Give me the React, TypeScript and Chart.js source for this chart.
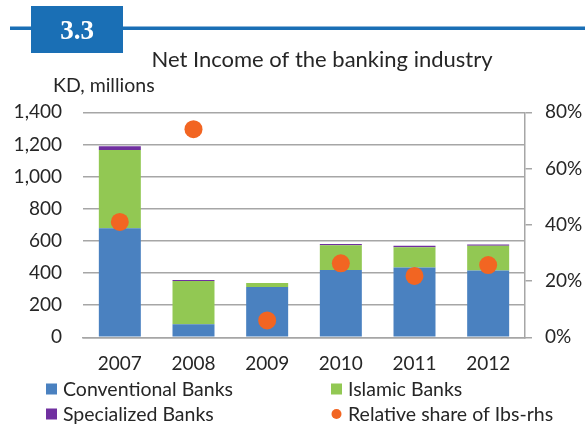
import React, { useEffect, useRef } from "react";
import { Chart, registerables } from "chart.js";

Chart.register(...registerables);

const years = ["2007", "2008", "2009", "2010", "2011", "2012"];
const conventional = [679, 81, 313, 418, 434, 415];
const islamic = [486, 270, 25, 155, 127, 154];
const specialized = [23, 6, 0, 7, 8, 8];
const shareIbs = [41, 74, 6, 26.3, 21.8, 25.7];

const leftTicks = { min: 0, max: 1400, step: 200 };
const rightTicks = { min: 0, max: 80, step: 20 };

const FONT = "Lato";
const TEXT = "#262626";
const GRID = "#a6a6a6";
const C_CONV = "#4a81c0";
const C_ISL = "#92c853";
const C_SPEC = "#7030a0";
const C_DOT = "#f26522";
const HEAD = "#1a6fb5";

const chrome = {
  id: "chrome",
  afterDraw(chart: any) {
    const ctx = chart.ctx as CanvasRenderingContext2D;
    ctx.save();
    // header band
    ctx.fillStyle = HEAD;
    ctx.fillRect(10, 26.5, 575, 3.5);
    ctx.fillRect(31, 6, 92, 47);
    ctx.fillStyle = "#ffffff";
    ctx.font = `bold 27px "Liberation Serif"`;
    ctx.textAlign = "center";
    ctx.textBaseline = "alphabetic";
    ctx.fillText("3.3", 77, 39.3);
    // title
    ctx.fillStyle = TEXT;
    ctx.font = `22px ${FONT}`;
    ctx.textAlign = "center";
    ctx.fillText("Net Income of the banking industry", 322, 67);
    // axis unit
    ctx.font = `19.5px ${FONT}`;
    ctx.textAlign = "left";
    ctx.fillText("KD, millions", 53, 92);
    // legend
    ctx.font = `19.5px ${FONT}`;
    const items = [
      { label: "Conventional Banks", color: C_CONV, x: 46, y: 389, dot: false },
      { label: "Islamic Banks", color: C_ISL, x: 331, y: 389, dot: false },
      { label: "Specialized Banks", color: C_SPEC, x: 46, y: 414, dot: false },
      { label: "Relative share of Ibs-rhs", color: C_DOT, x: 331, y: 414, dot: true },
    ];
    for (const it of items) {
      ctx.fillStyle = it.color;
      if (it.dot) {
        ctx.beginPath();
        ctx.arc(it.x + 5.5, it.y, 5, 0, Math.PI * 2);
        ctx.fill();
      } else {
        ctx.fillRect(it.x, it.y - 5.5, 11, 11);
      }
      ctx.fillStyle = TEXT;
      ctx.textBaseline = "middle";
      ctx.fillText(it.label, it.x + 17, it.y + 1);
    }
    ctx.restore();
  },
};

export default function App() {
  const ref = useRef<HTMLCanvasElement | null>(null);
  useEffect(() => {
    if (!ref.current) return;
    const chart = new Chart(ref.current, {
      type: "bar",
      data: {
        labels: years,
        datasets: [
          {
            type: "line",
            label: "Relative share of Ibs-rhs",
            data: shareIbs,
            yAxisID: "y1",
            showLine: false,
            pointRadius: 9,
            pointHoverRadius: 9,
            pointBackgroundColor: C_DOT,
            pointBorderWidth: 0,
            backgroundColor: C_DOT,
            borderColor: C_DOT,
            order: 0,
          } as any,
          { label: "Conventional Banks", data: conventional, backgroundColor: C_CONV, yAxisID: "y", order: 1 },
          { label: "Islamic Banks", data: islamic, backgroundColor: C_ISL, yAxisID: "y", order: 1 },
          { label: "Specialized Banks", data: specialized, backgroundColor: C_SPEC, yAxisID: "y", order: 1 },
        ],
      },
      options: {
        responsive: false,
        animation: false,
        devicePixelRatio: 1,
        datasets: { bar: { barPercentage: 0.57, categoryPercentage: 1, borderWidth: 0 } },
        layout: { padding: { top: 112.3, left: 0, right: 0, bottom: 0 } },
        plugins: { legend: { display: false }, tooltip: { enabled: false }, title: { display: false } },
        scales: {
          x: {
            stacked: true,
            grid: { display: false, drawTicks: false },
            border: { display: true, color: GRID, width: 1.5 },
            ticks: { font: { family: FONT, size: 19 }, color: TEXT, padding: 15, maxRotation: 0 },
            afterFit: (s: any) => { s.height = 424 - 337.3; },
          },
          y: {
            stacked: true,
            position: "left",
            min: leftTicks.min,
            max: leftTicks.max,
            grid: { color: GRID, lineWidth: 1.5, drawTicks: false },
            border: { display: false },
            ticks: { stepSize: leftTicks.step, font: { family: FONT, size: 19 }, color: TEXT, padding: 21 },
            afterFit: (s: any) => { s.width = 83; },
          },
          y1: {
            stacked: false,
            position: "right",
            min: rightTicks.min,
            max: rightTicks.max,
            grid: { drawOnChartArea: false, color: GRID, lineWidth: 1.5, tickLength: 7 },
            border: { display: true, color: GRID, width: 1.5 },
            ticks: {
              stepSize: rightTicks.step,
              font: { family: FONT, size: 19 },
              color: TEXT,
              padding: 13,
              callback: (v: any) => `${v}%`,
            },
            afterFit: (s: any) => { s.width = 60; },
          },
        },
      },
      plugins: [chrome],
    });
    return () => chart.destroy();
  }, []);
  return (
    <div style={{ position: "fixed", left: 0, top: 0, width: 585, height: 424, background: "#fff" }}>
      <canvas ref={ref} width={585} height={424} style={{ display: "block" }} />
    </div>
  );
}
